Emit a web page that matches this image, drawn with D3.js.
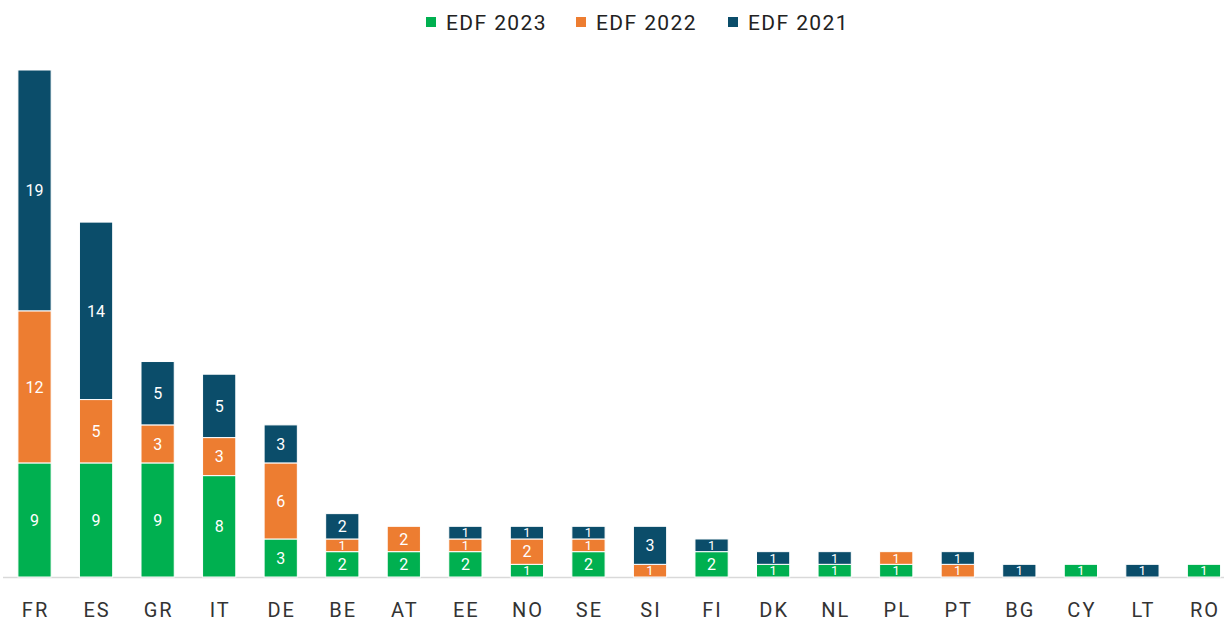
<!DOCTYPE html>
<html>
<head>
<meta charset="utf-8">
<script src="https://cdn.jsdelivr.net/npm/d3@7"></script>
<style>
  body { margin: 0; background: #fff; }
  svg text { font-family: Roboto, "Liberation Sans", sans-serif; }
</style>
</head>
<body>
<div id="chart"></div>
<script>
'use strict'
const countries = ["FR","ES","GR","IT","DE","BE","AT","EE","NO","SE","SI","FI","DK","NL","PL","PT","BG","CY","LT","RO"]
const edf2023 = [9,9,9,8,3,2,2,2,1,2,0,2,1,1,1,0,0,1,0,1]
const edf2022 = [12,5,3,3,6,1,2,1,2,1,1,0,0,0,1,1,0,0,0,0]
const edf2021 = [19,14,5,5,3,2,0,1,1,1,3,1,1,1,0,1,1,0,1,0]
const seriesNames = ["EDF 2023","EDF 2022","EDF 2021"]
const seriesColors = ["#00b050","#ed7d31","#0b4d6a"]

const width = 1224, height = 623
const svg = d3.select("#chart")
  .append("svg")
    .attr("width", width)
    .attr("height", height)

const rows = countries.map((c, i) => ({country: c, s0: edf2023[i], s1: edf2022[i], s2: edf2021[i]}))
const stack = d3.stack().keys(["s0","s1","s2"])(rows)

const x = d3.scaleBand()
  .domain(countries)
  .range([3.75, 1234.75])
  .paddingInner(0.46)
  .paddingOuter(0.23)
const y = d3.scaleLinear()
  .domain([0, 40])
  .range([577, 70])

// baseline
svg.append("line")
  .attr("x1", 3).attr("x2", width)
  .attr("y1", y(0) + 0.5).attr("y2", y(0) + 0.5)
  .attr("stroke", "#d9d9d9")
  .attr("stroke-width", 1.5)

const defs = svg.append("defs")
let clipId = 0

stack.forEach((layer, k) => {
  const g = svg.append("g")
  layer.forEach(d => {
    if (d[1] - d[0] <= 0) return
    const cx = x(d.data.country)
    const y0 = y(d[1]), h = y(d[0]) - y(d[1])
    const id = "clip" + (clipId++)
    defs.append("clipPath").attr("id", id)
      .append("rect")
        .attr("x", cx).attr("y", y0)
        .attr("width", x.bandwidth()).attr("height", h)
    g.append("rect")
      .attr("x", cx)
      .attr("y", y0)
      .attr("width", x.bandwidth())
      .attr("height", h)
      .attr("fill", seriesColors[k])
      .attr("stroke", "#fff")
      .attr("stroke-width", 1)
    // label is clipped to its segment, like the small bars in the original
    g.append("text")
      .attr("clip-path", `url(#${id})`)
      .attr("x", cx + x.bandwidth() / 2)
      .attr("y", y0 + h / 2)
      .attr("dy", "0.36em")
      .attr("text-anchor", "middle")
      .attr("fill", "#fff")
      .attr("font-size", h < 16 ? 13 : 16)
      .text(d[1] - d[0])
  })
})

// category labels
svg.append("g")
  .selectAll("text")
  .data(countries)
  .enter()
    .append("text")
    .attr("x", d => x(d) + x.bandwidth() / 2 + 1)
    .attr("y", 617)
    .attr("text-anchor", "middle")
    .attr("fill", "#333")
    .attr("font-size", 20)
    .attr("letter-spacing", "2px")
    .text(d => d)

// legend
const legendX = [426, 576, 728]
const legend = svg.append("g")
seriesNames.forEach((name, i) => {
  legend.append("rect")
    .attr("x", legendX[i]).attr("y", 17)
    .attr("width", 10).attr("height", 10)
    .attr("fill", seriesColors[i])
  legend.append("text")
    .attr("x", legendX[i] + 20)
    .attr("y", 22)
    .attr("dy", "0.36em")
    .attr("fill", "#222")
    .attr("font-size", 21)
    .attr("letter-spacing", "1.4px")
    .text(name)
})
</script>
</body>
</html>
